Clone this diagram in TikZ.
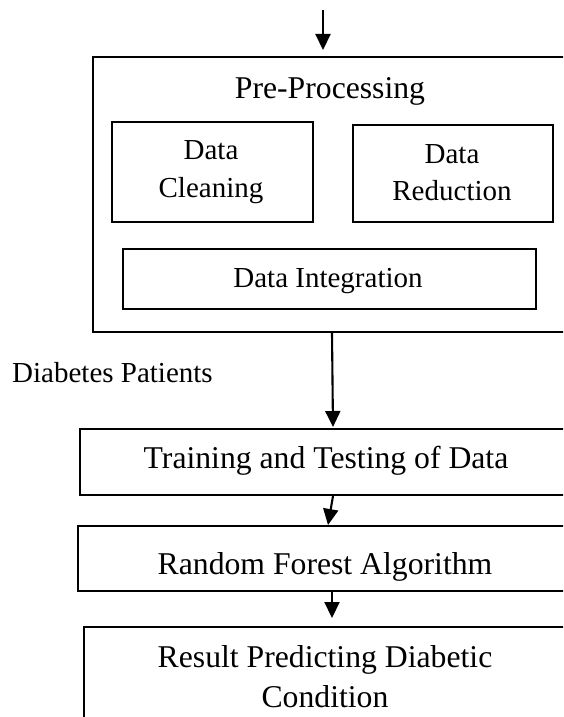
\documentclass[tikz,border=0pt]{standalone}
\usepackage{fontspec}
\setmainfont{Liberation Serif}
\usetikzlibrary{arrows.meta}
\begin{document}
\begin{tikzpicture}[x=1pt,y=-1pt,
  box/.style={draw=black, line width=2.1pt, rectangle, inner sep=0pt, anchor=north west},
  big/.style={font=\fontsize{31.7}{38}\selectfont, inner sep=0pt, anchor=base},
  small/.style={font=\fontsize{29}{35}\selectfont, inner sep=0pt, anchor=base},
  arr/.style={line width=2.1pt, -{Triangle[length=16pt,width=15pt]}}]
\clip (0,0) rectangle (563,717);
\useasboundingbox (0,0) rectangle (563,717);

% boxes (some run past the page edge)
\node[box, minimum width=476pt, minimum height=275pt] (pre) at (92,56) {};
\node[box, minimum width=201pt, minimum height=100pt] (clean) at (111,121) {};
\node[box, minimum width=200pt, minimum height=97pt] (reduce) at (352,124) {};
\node[box, minimum width=413pt, minimum height=60pt] (integ) at (122,248) {};
\node[box, minimum width=494pt, minimum height=66pt] (train) at (79,428) {};
\node[box, minimum width=495pt, minimum height=65pt] (forest) at (77,525) {};
\node[box, minimum width=484pt, minimum height=140pt] (result) at (83,626) {};

% labels
\node[big] (preT) at (330,98) {Pre-Processing};
\node[small] (cleanA) at (211,159) {Data};
\node[small] (cleanB) at (211,197) {Cleaning};
\node[small] (reduceA) at (452,163) {Data};
\node[small] (reduceB) at (452,200) {Reduction};
\node[small] (integT) at (328,287) {Data Integration};
\node[small, anchor=base west] (patients) at (12,382) {Diabetes Patients};
\node[big] (trainT) at (326,468) {Training and Testing of Data};
\node[big] (forestT) at (325,574) {Random Forest Algorithm};
\node[big] (resultA) at (325,667) {Result Predicting Diabetic};
\node[big] (resultB) at (325,707) {Condition};

% arrow positions
\coordinate (in) at (323,10);
\coordinate (x1) at (332,0);
\coordinate (x2) at (333,0);
\coordinate (x3) at (328,0);

% connectors
\draw[arr, shorten >=6pt] (in) -- (pre.north -| in);
\draw[arr, shorten >=1pt] (pre.south -| x1) -- (train.north -| x2);
\draw[arr] (train.south -| x2) -- (forest.north -| x3);
\draw[arr, shorten >=8pt] (forest.south -| x1) -- (result.north -| x1);
\end{tikzpicture}
\end{document}
